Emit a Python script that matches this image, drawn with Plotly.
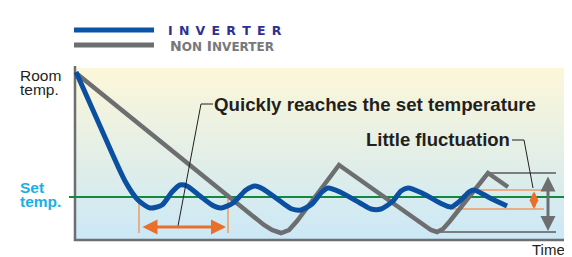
import plotly.graph_objects as go

# ---------------- data (time units, temperature units; origin at axes corner) -------------
inverter_time = [1, 25, 50, 63, 75, 87, 97, 105, 112, 125, 137, 146, 158, 171, 180, 188,
                 205, 217, 226, 237, 247, 253, 265, 285, 296, 306, 318, 326, 333, 347,
                 365, 376, 386, 394, 399, 415, 432]
inverter_temp = [168, 114, 59, 40, 32, 35, 48, 55, 54, 44, 35, 32, 37, 50, 54, 51,
                 39, 31, 30, 36, 48, 52, 48, 37, 31, 31, 39, 49, 52, 47,
                 37, 33, 40, 48, 50, 42, 34]

non_inverter_time = [1, 189, 197, 206, 214, 222, 264, 350, 356, 362, 368, 375, 413, 433]
non_inverter_temp = [167, 15, 10, 7, 10, 19, 75, 14, 10, 8, 11, 19, 67, 53]

set_temp = 43
room_temp_top = 172
time_end = 491

series_names = ["INVERTER", "NON INVERTER"]

# ---------------- styling -------------
BLUE = "#0b4fa0"
GRAY = "#6d6e70"
ORANGE = "#e8702a"
ORANGE_LIGHT = "#ef9a66"
GREEN = "#12893c"
DARK = "#231f20"
CYAN = "#1aafe6"
INDIGO = "#2e3192"

fig = go.Figure()

# gradient background
fig.add_trace(go.Scatter(
    x=[1, time_end, time_end, 1, 1], y=[0, 0, room_temp_top, room_temp_top, 0],
    mode="lines", line=dict(width=0), fill="toself",
    fillgradient=dict(type="vertical",
                      colorscale=[[0, "#cbe8f7"], [0.45, "#e1eee8"], [1, "#fdf7d9"]]),
    hoverinfo="skip", showlegend=False))

# axes
fig.add_trace(go.Scatter(x=[0, 0, time_end], y=[room_temp_top + 2, 0, 0], mode="lines",
                         line=dict(color=GRAY, width=2.5), hoverinfo="skip", showlegend=False))

# set-temperature line
fig.add_trace(go.Scatter(x=[-6, 497], y=[set_temp, set_temp], mode="lines",
                         line=dict(color=GREEN, width=2), hoverinfo="skip", showlegend=False))

def seg(xs, ys, color, width):
    fig.add_trace(go.Scatter(x=xs, y=ys, mode="lines", line=dict(color=color, width=width),
                             hoverinfo="skip", showlegend=False))

# orange guide lines for "quickly reaches"
seg([64, 64], [set_temp, 7], ORANGE_LIGHT, 1.5)
seg([153, 153], [set_temp, 7], ORANGE_LIGHT, 1.5)
# fluctuation guide lines
seg([393, 469], [50, 50], ORANGE_LIGHT, 1.5)
seg([375, 469], [31, 31], ORANGE_LIGHT, 1.5)
seg([413, 481], [67, 67], "#7d7d7f", 2)
seg([362, 481], [8, 8], "#7d7d7f", 2)

# curves
fig.add_trace(go.Scatter(x=non_inverter_time, y=non_inverter_temp, mode="lines",
                         name=series_names[1], line=dict(color=GRAY, width=4.5),
                         showlegend=False))
fig.add_trace(go.Scatter(x=inverter_time, y=inverter_temp, mode="lines",
                         name=series_names[0],
                         line=dict(color=BLUE, width=5, shape="spline", smoothing=0.7),
                         showlegend=False))

# pointer lines
seg([103, 126, 138], [14, 136, 136], DARK, 1)
seg([437, 449, 458], [100, 100, 52], DARK, 1)

shapes = [
    dict(type="line", x0=-1, x1=79, y0=210, y1=210, line=dict(color="#0b55a8", width=5)),
    dict(type="line", x0=-1, x1=79, y0=195, y1=195, line=dict(color=GRAY, width=5)),
]

def arrow(x0, y0, x1, y1, color, width, size=1.0):
    return dict(x=x1, y=y1, ax=x0, ay=y0, xref="x", yref="y", axref="x", ayref="y",
                text="", showarrow=True, arrowhead=2, arrowside="end+start",
                arrowsize=size, arrowwidth=width, arrowcolor=color,
                standoff=0, startstandoff=0)

def label(x, y, text, size, color, xanchor="left", family="Liberation Sans"):
    return dict(x=x, y=y, xref="x", yref="y", text=text, showarrow=False,
                xanchor=xanchor, yanchor="middle", borderpad=0,
                font=dict(family=family, size=size, color=color))

sp = "\u2002"
annotations = [
    arrow(66, 13, 151, 13, ORANGE, 3),
    arrow(459, 50, 459, 31, ORANGE, 3, 0.6),
    arrow(473, 65, 473, 9, GRAY, 3),
    label(138, 136, "<b>Quickly reaches the set temperature</b>", 18.7, DARK),
    label(290, 101, "<b>Little fluctuation</b>", 18.5, DARK),
    label(-56, 164.5, "Room", 15.5, DARK),
    label(-56, 150.5, "temp.", 15.5, DARK),
    label(-56, 52.5, "<b>Set</b>", 15.5, CYAN),
    label(-56, 38.5, "<b>temp.</b>", 15.5, CYAN),
    label(491, -9, "Time", 15, DARK, xanchor="right"),
    label(92, 210, "<b>" + sp.join(list(series_names[0])) + "</b>", 12.5, INDIGO,
          family="DejaVu Sans"),
    label(94, 194, "<b>N<span style='font-size:12px'>ON</span> I"
                   "<span style='font-size:12px'>NVERTER</span></b>", 14, "#77787b",
          family="DejaVu Sans"),
]

# the page body adds an 8px margin, so the axes ranges are offset to compensate
fig.update_layout(
    width=572, height=257, margin=dict(l=0, r=0, t=0, b=0),
    paper_bgcolor="white", plot_bgcolor="white",
    xaxis=dict(range=[-67, 505], visible=False, fixedrange=True),
    yaxis=dict(range=[-25, 232], visible=False, fixedrange=True),
    shapes=shapes, annotations=annotations, showlegend=False,
)

fig.write_html("out.html")
